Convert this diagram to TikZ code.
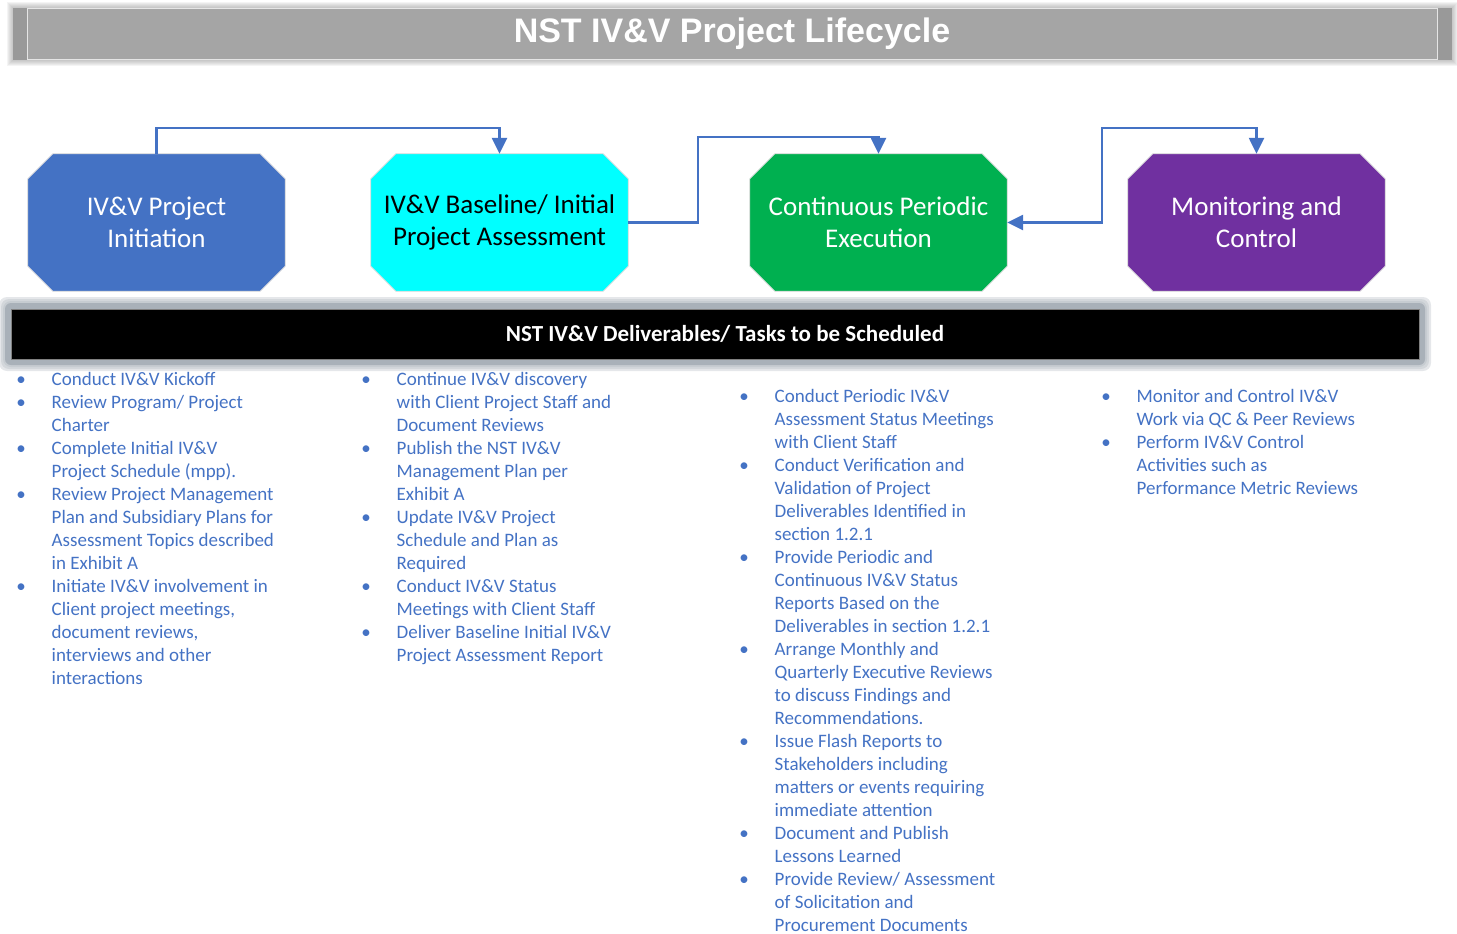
\documentclass[tikz,border=0pt]{standalone}
\usepackage{fontspec}
\setmainfont{Carlito}
\newfontfamily\headfont{Liberation Sans}
\usetikzlibrary{arrows.meta,backgrounds}

\definecolor{ivvblue}{HTML}{4472C4}
\definecolor{ivvcyan}{HTML}{00FFFF}
\definecolor{ivvgreen}{HTML}{00B050}
\definecolor{ivvpurple}{HTML}{7030A0}
\definecolor{titlegray}{HTML}{A5A5A5}
\definecolor{titleedge}{HTML}{999999}
\definecolor{barglow}{HTML}{A9B1B9}

% bullet followed by the indent of the item text
\newcommand{\itemdot}{\makebox[35.5pt][l]{\makebox[10pt]{\textbullet}}}

% octagon with cut corners around a phase node, with a soft drop shadow
\newcommand{\octpath}[2]{%
  ([xshift=25pt]#1.north west) -- ([xshift=-25pt]#1.north east) --
  ([yshift=-25pt]#1.north east) -- ([yshift=25pt]#1.south east) --
  ([xshift=-25pt]#1.south east) -- ([xshift=25pt]#1.south west) --
  ([yshift=25pt]#1.south west) -- ([yshift=-25pt]#1.north west) -- cycle}
\newcommand{\octagon}[2]{%
  \foreach \s in {2,3,4,5,6}
    \fill[black, opacity=0.1, xshift=\s pt, yshift=-\s pt] \octpath{#1}{};
  \filldraw[fill=#2, draw=white!75!gray, line width=0.8pt] \octpath{#1}{};}

\tikzset{
  phase/.style={rectangle, minimum width=257pt, minimum height=137pt,
    inner sep=0pt, align=center, font=\fontsize{27}{32}\selectfont},
  flow/.style={draw=ivvblue, line width=2.5pt},
  tip/.style={-{Triangle[length=16pt,width=15pt]}},
  col/.style={anchor=base west, inner sep=0pt, text=ivvblue,
    font=\fontsize{19}{23}\selectfont},
}

\begin{document}
\begin{tikzpicture}[x=1pt,y=1pt]
\useasboundingbox (0,0) rectangle (1457,-934);

% title banner with its soft halo
\foreach \r in {6,5,4,3,2,1}
  \fill[gray, opacity=0.09] ({13-\r},{-8+\r}) rectangle ({1452+\r},{-60-\r});
\fill[titleedge] (13,-8) rectangle (1452,-60);
\node[fill=titlegray, draw=white!80!gray, line width=0.6pt, inner sep=0pt,
      minimum width=1410pt, minimum height=51pt, text=white,
      font=\headfont\fontsize{34}{40}\selectfont\bfseries]
  (title) at (732,-33.5) {NST IV\&V Project Lifecycle};

% lifecycle phases
\node[phase, text=white] (init) at (156.5,-222.5)
  {IV\&V Project\\Initiation};
\node[phase, text=black] (base) at (499.5,-222.5)
  {IV\&V Baseline/ Initial\\Project Assessment};
\node[phase, text=white] (exec) at (878.5,-222.5)
  {Continuous Periodic\\Execution};
\node[phase, text=white] (mon) at (1256.5,-222.5)
  {Monitoring and\\Control};
\begin{scope}[on background layer]
  \octagon{init}{ivvblue}
  \octagon{base}{ivvcyan}
  \octagon{exec}{ivvgreen}
  \octagon{mon}{ivvpurple}
\end{scope}

% connectors between phases
\coordinate (k1) at (156.5,-128);
\coordinate (k2) at (698,-137);
\coordinate (k3) at (1102,-128);
\draw[flow, tip] (init.north) -- (k1) -| (base.north);
\draw[flow, tip] (base.east) -| (k2) -| (exec.north);
\draw[flow, {Triangle[length=16pt,width=15pt]}-{Triangle[length=16pt,width=15pt]}]
  (exec.east) -| (k3) -| (mon.north);

% deliverables banner with its glow
\foreach \r in {12,10,8}
  \fill[barglow, opacity=0.3, rounded corners=8pt]
    ({11-\r},{-309+\r}) rectangle ({1419+\r},{-359-\r});
\fill[barglow, rounded corners=6pt] (5,-303) rectangle (1425,-365);
\node[fill=black, draw=gray, line width=0.6pt, inner sep=0pt,
      minimum width=1408pt, minimum height=50pt, text=white,
      font=\fontsize{23}{27}\selectfont\bfseries]
  (bar) at (715,-334) {\hspace*{20pt}NST IV\&V Deliverables/ Tasks to be Scheduled};

% task lists
\node[col] (tasks1) at (16,-385) {\begin{tabular}[t]{@{}l@{}l@{}}
\itemdot & Conduct IV\&V Kickoff\\
\itemdot & Review Program/ Project\\
 & Charter\\
\itemdot & Complete Initial IV\&V\\
 & Project Schedule (mpp).\\
\itemdot & Review Project Management\\
 & Plan and Subsidiary Plans for\\
 & Assessment Topics described\\
 & in Exhibit A\\
\itemdot & Initiate IV\&V involvement in\\
 & Client project meetings,\\
 & document reviews,\\
 & interviews and other\\
 & interactions
\end{tabular}};

\node[col] (tasks2) at (361,-385) {\begin{tabular}[t]{@{}l@{}l@{}}
\itemdot & Continue IV\&V discovery\\
 & with Client Project Staff and\\
 & Document Reviews\\
\itemdot & Publish the NST IV\&V\\
 & Management Plan per\\
 & Exhibit A\\
\itemdot & Update IV\&V Project\\
 & Schedule and Plan as\\
 & Required\\
\itemdot & Conduct IV\&V Status\\
 & Meetings with Client Staff\\
\itemdot & Deliver Baseline Initial IV\&V\\
 & Project Assessment Report
\end{tabular}};

\node[col] (tasks3) at (739,-402) {\begin{tabular}[t]{@{}l@{}l@{}}
\itemdot & Conduct Periodic IV\&V\\
 & Assessment Status Meetings\\
 & with Client Staff\\
\itemdot & Conduct Verification and\\
 & Validation of Project\\
 & Deliverables Identified in\\
 & section 1.2.1\\
\itemdot & Provide Periodic and\\
 & Continuous IV\&V Status\\
 & Reports Based on the\\
 & Deliverables in section 1.2.1\\
\itemdot & Arrange Monthly and\\
 & Quarterly Executive Reviews\\
 & to discuss Findings and\\
 & Recommendations.\\
\itemdot & Issue Flash Reports to\\
 & Stakeholders including\\
 & matters or events requiring\\
 & immediate attention\\
\itemdot & Document and Publish\\
 & Lessons Learned\\
\itemdot & Provide Review/ Assessment\\
 & of Solicitation and\\
 & Procurement Documents
\end{tabular}};

\node[col] (tasks4) at (1101,-402) {\begin{tabular}[t]{@{}l@{}l@{}}
\itemdot & Monitor and Control IV\&V\\
 & Work via QC \& Peer Reviews\\
\itemdot & Perform IV\&V Control\\
 & Activities such as\\
 & Performance Metric Reviews
\end{tabular}};
\end{tikzpicture}
\end{document}
